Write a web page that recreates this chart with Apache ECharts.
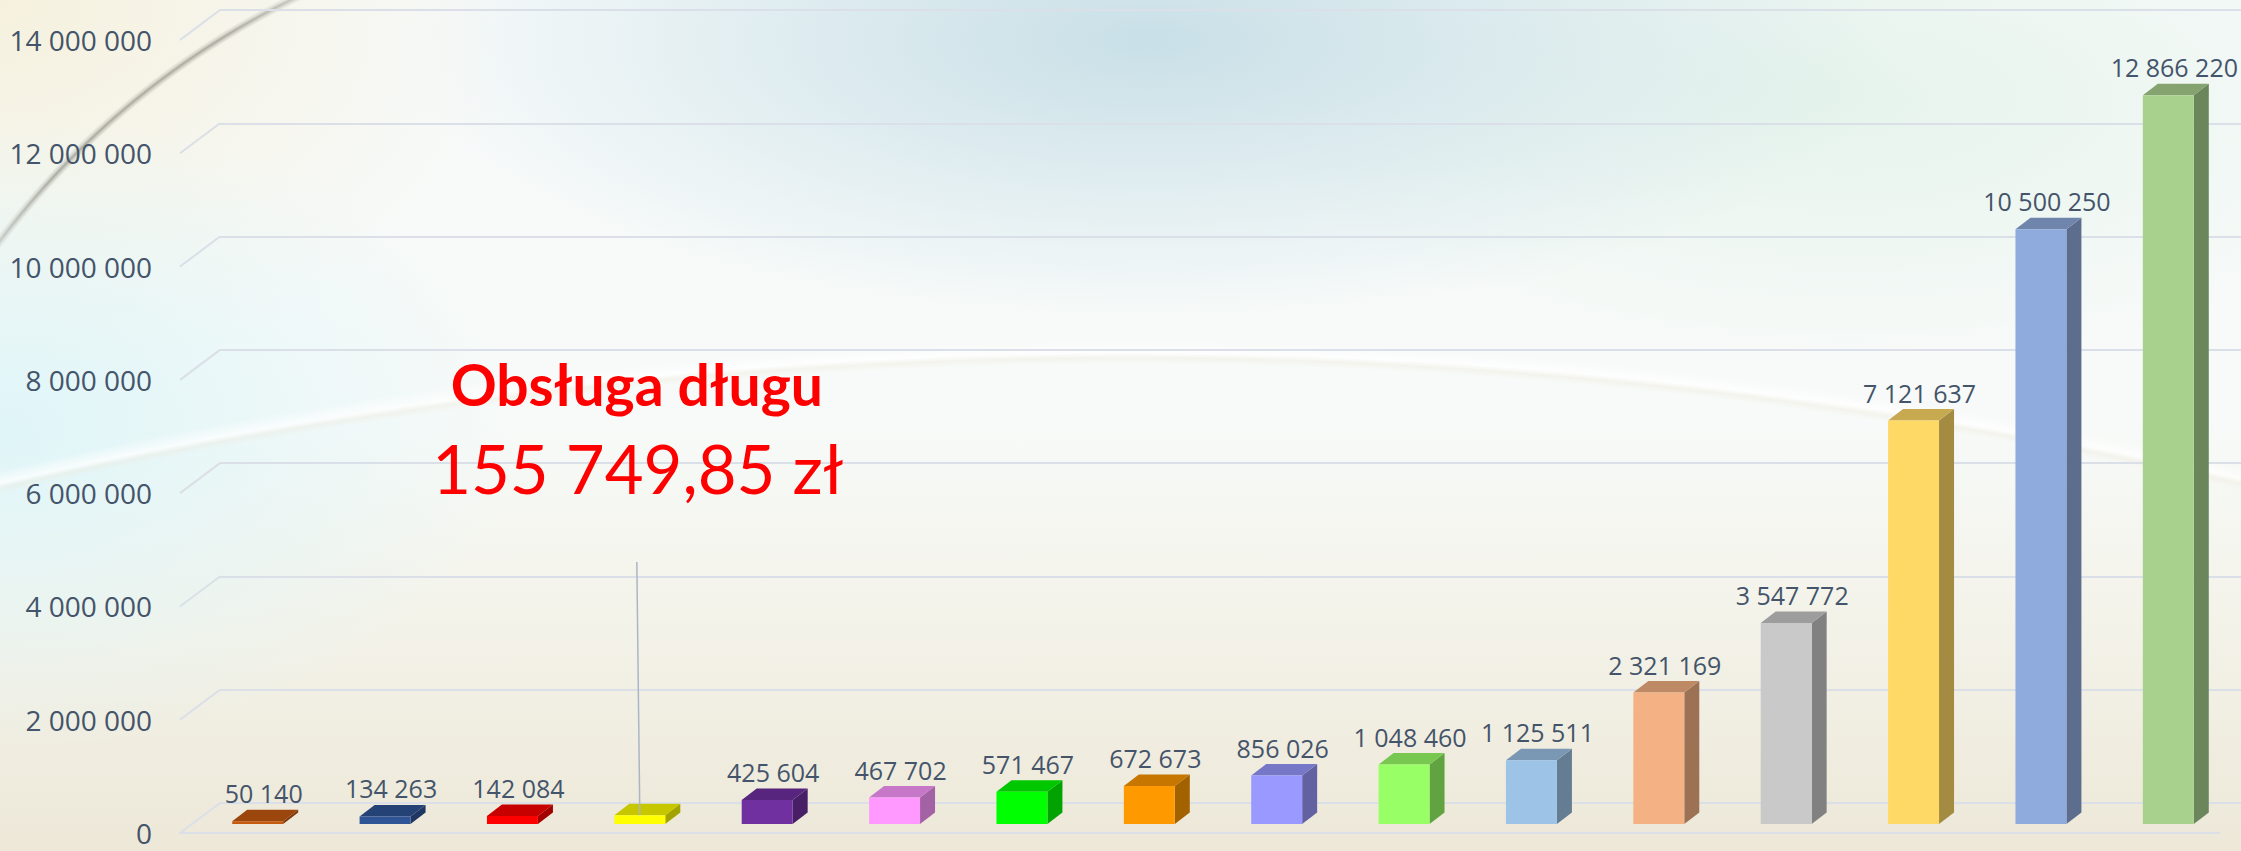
<!DOCTYPE html>
<html><head><meta charset="utf-8">
<script src="https://cdn.jsdelivr.net/npm/echarts@6/dist/echarts.min.js"></script>
<style>
html,body{margin:0;padding:0;width:2241px;height:851px;overflow:hidden;background:#f5f7f3;}
#bg{position:absolute;left:0;top:0;width:2241px;height:851px;
background:
 radial-gradient(circle at 1130px 5330px, rgba(255,255,255,0) 4966px, rgba(238,232,218,0.35) 4972px, rgba(255,255,255,0.75) 4977px, rgba(255,255,255,0) 4990px),
 radial-gradient(ellipse 750px 280px at 1150px 40px, rgba(198,222,230,0.95), rgba(198,222,230,0) 100%),
 radial-gradient(ellipse 520px 320px at 0px 430px, rgba(222,245,248,0.95), rgba(222,245,248,0) 100%),
 radial-gradient(ellipse 520px 380px at 0px 0px, rgba(246,241,222,1), rgba(246,241,222,0) 100%),
 radial-gradient(ellipse 600px 260px at 1850px 100px, rgba(228,243,234,0.9), rgba(228,243,234,0) 100%),
 linear-gradient(to bottom, #f7fafa 0%, #f7faf8 50%, #f3f2e8 75%, #ede8d8 100%);}
#arc{position:absolute;left:0;top:0;width:2241px;height:851px;
background: radial-gradient(circle at 651px 731px, rgba(0,0,0,0) 810px, rgba(170,170,160,0.5) 813px, rgba(130,130,120,0.65) 815px, rgba(170,170,160,0.4) 817px, rgba(0,0,0,0) 820px);
-webkit-mask-image: radial-gradient(ellipse 420px 330px at 0px 0px, #000 55%, rgba(0,0,0,0) 100%);
mask-image: radial-gradient(ellipse 420px 330px at 0px 0px, #000 55%, rgba(0,0,0,0) 100%);}
#chart{position:absolute;left:0;top:0;width:2241px;height:851px;}
</style></head><body><div id="bg"></div><div id="arc"></div><div id="chart"></div>
<script>
// ---- data ----
const categories = ['1','2','3','4','5','6','7','8','9','10','11','12','13','14','15','16'];
const values = [50140, 134263, 142084, 155749.85, 425604, 467702, 571467, 672673, 856026, 1048460, 1125511, 2321169, 3547772, 7121637, 10500250, 12866220];
const yTicks = [0, 2000000, 4000000, 6000000, 8000000, 10000000, 12000000, 14000000];
const annotationIndex = 3;
const annotationTitle = 'Obsługa długu';
const annotationUnit = 'zł';
// ---- styles ----
const barColors = ['#c55a11','#2f5597','#ff0000','#ffff00','#7030a0','#ff99ff','#00ff00','#ff9900','#9999ff','#99ff66','#9dc3e6','#f4b183','#c9c9c9','#ffd966','#8faadc','#a9d18e'];

function fmt(v){ return Math.round(v).toString().replace(/\B(?=(\d{3})+(?!\d))/g,' '); }
function fmtMoney(v){ const s=v.toFixed(2).split('.'); return fmt(Number(s[0]))+','+s[1]+' '+annotationUnit; }
function shade(hex,f){ const n=parseInt(hex.slice(1),16); const r=Math.round(((n>>16)&255)*f), g=Math.round(((n>>8)&255)*f), b=Math.round((n&255)*f); return 'rgb('+r+','+g+','+b+')'; }

const yMin = yTicks[0], yMax = yTicks[yTicks.length-1], yInt = yTicks[1]-yTicks[0];
const gridColor = '#dadfe8';
const DX = 15, DY = 11.5, DIAG_X = 40, DIAG_Y = 30;

const chart = echarts.init(document.getElementById('chart'), null, {renderer:'svg'});
chart.setOption({
  animation:false,
  backgroundColor:'transparent',
  grid:[
    {left:220, right:0, top:10, bottom:48},
    {left:180, right:22, top:40, bottom:18},
    {left:194, right:9, top:31, bottom:27}
  ],
  xAxis:[
    {gridIndex:0, type:'value', min:0, max:1, show:false},
    {gridIndex:1, type:'value', min:0, max:1, axisLine:{show:true, onZero:false, lineStyle:{color:gridColor, width:2}}, axisTick:{show:false}, axisLabel:{show:false}, splitLine:{show:false}},
    {gridIndex:2, type:'category', data:categories, show:false}
  ],
  yAxis:[
    {gridIndex:0, type:'value', min:yMin, max:yMax, interval:yInt, axisLine:{show:false}, axisTick:{show:false}, axisLabel:{show:false}, splitLine:{show:true, lineStyle:{color:gridColor, width:2}}},
    {gridIndex:1, type:'value', min:yMin, max:yMax, interval:yInt, axisLine:{show:false}, axisTick:{show:false}, splitLine:{show:false},
      axisLabel:{show:true, margin:28, color:'#44546a', fontSize:28, fontFamily:'Open Sans', formatter:fmt}},
    {gridIndex:2, type:'value', min:yMin, max:yMax, show:false}
  ],
  series:[
    {
      type:'custom', xAxisIndex:1, yAxisIndex:1, silent:true,
      data: yTicks.map(t=>[0,t]),
      renderItem:function(params, api){
        const p = api.coord([0, api.value(1)]);
        return {type:'line', shape:{x1:p[0], y1:p[1], x2:p[0]+DIAG_X, y2:p[1]-DIAG_Y}, style:{stroke:gridColor, lineWidth:2}};
      }
    },
    {
      type:'custom', xAxisIndex:2, yAxisIndex:2, silent:true,
      data: values.map((v,i)=>[i,v]),
      renderItem:function(params, api){
        const i = api.value(0), v = api.value(1);
        const base = api.coord([i, 0]);
        const top = api.coord([i, v]);
        const bw = api.size([1,0])[0]*0.4;
        const x0 = base[0]-bw/2, x1 = base[0]+bw/2, yb = base[1], yt = top[1];
        const c = barColors[i];
        const children = [
          {type:'polygon', shape:{points:[[x1,yb],[x1+DX,yb-DY],[x1+DX,yt-DY],[x1,yt]]}, style:{fill:shade(c,0.64)}},
          {type:'polygon', shape:{points:[[x0,yt],[x0+DX,yt-DY],[x1+DX,yt-DY],[x1,yt]]}, style:{fill:shade(c,0.78)}},
          {type:'rect', shape:{x:x0, y:yt, width:bw, height:yb-yt}, style:{fill:c}}
        ];
        if (i === annotationIndex) {
          children.push({type:'line', shape:{x1:base[0]-3, y1:562, x2:base[0], y2:yt}, style:{stroke:'#aab6c6', lineWidth:1.5}});
          children.push({type:'text', x:base[0]-3, y:384, style:{text:annotationTitle, fill:'#ff0000', fontSize:57, fontWeight:'bold', fontFamily:'Lato', align:'center', verticalAlign:'middle'}});
          children.push({type:'text', x:base[0]-2, y:468, style:{text:fmtMoney(v), fill:'#ff0000', fontSize:67, fontFamily:'Lato', align:'center', verticalAlign:'middle'}});
        } else {
          children.push({type:'text', x:base[0]+6, y:yt-DY-4, style:{text:fmt(v), fill:'#44546a', fontSize:25, fontFamily:'Open Sans', align:'center', verticalAlign:'bottom'}});
        }
        return {type:'group', children:children};
      }
    }
  ]
});
</script>
</body></html>
